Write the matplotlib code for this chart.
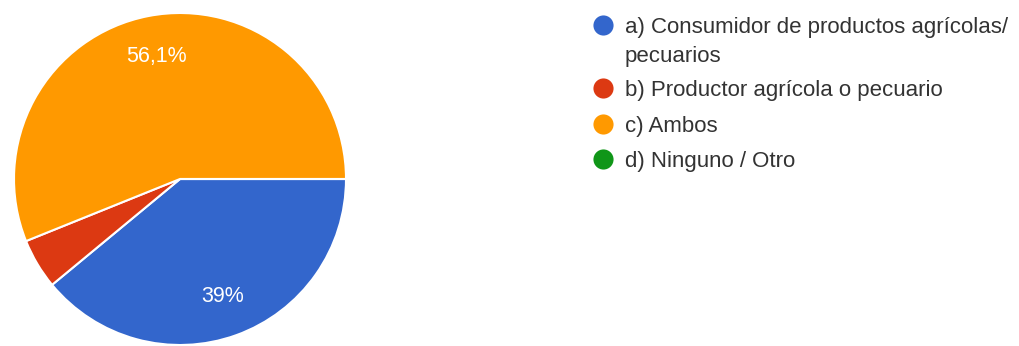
import numpy as np
import matplotlib
matplotlib.use("Agg")
import matplotlib.pyplot as plt

# data
labels = ["a) Consumidor de productos agrícolas/\npecuarios",
          "b) Productor agrícola o pecuario",
          "c) Ambos",
          "d) Ninguno / Otro"]
values = [39.0, 4.9, 56.1, 0.0]
pct_text = ["39%", "", "56,1%", ""]
colors = ["#3366cc", "#dc3912", "#ff9900", "#109618"]

plt.rcParams['font.family'] = ['Liberation Sans', 'DejaVu Sans']

W, H = 1020, 346
fig = plt.figure(figsize=(W / 100, H / 100), dpi=100)
fig.patch.set_facecolor("white")

# pie axes: center (180,179) px, radius 166 px
cx, cy, r = 180, 179, 166
ax = fig.add_axes([(cx - r) / W, (H - cy - r) / H, 2 * r / W, 2 * r / H])
wedges, _ = ax.pie(values, colors=colors, startangle=0, counterclock=False,
                   radius=1.0, wedgeprops=dict(edgecolor="white", linewidth=1.5))
ax.set_xlim(-1, 1)
ax.set_ylim(-1, 1)
ax.set_aspect("equal")
ax.axis("off")

for w, t in zip(wedges, pct_text):
    if not t:
        continue
    mid = np.deg2rad((w.theta1 + w.theta2) / 2)
    ax.text(0.75 * np.cos(mid), 0.75 * np.sin(mid), t, ha="center", va="center",
            color="white", fontsize=15.5)

# legend drawn by hand
lg = fig.add_axes([0, 0, 1, 1])
lg.set_xlim(0, W)
lg.set_ylim(H, 0)
lg.axis("off")
rows = [25, 88, 124, 159]
for y, lab, c in zip(rows, labels, colors):
    lg.plot(603, y, "o", color=c, markersize=14.5, markeredgewidth=0)
    for k, line in enumerate(lab.split("\n")):
        lg.text(625, y + k * 29, line, ha="left", va="center_baseline",
                fontsize=16, color="#333333")

fig.savefig("out.png", dpi=100, facecolor="white")
